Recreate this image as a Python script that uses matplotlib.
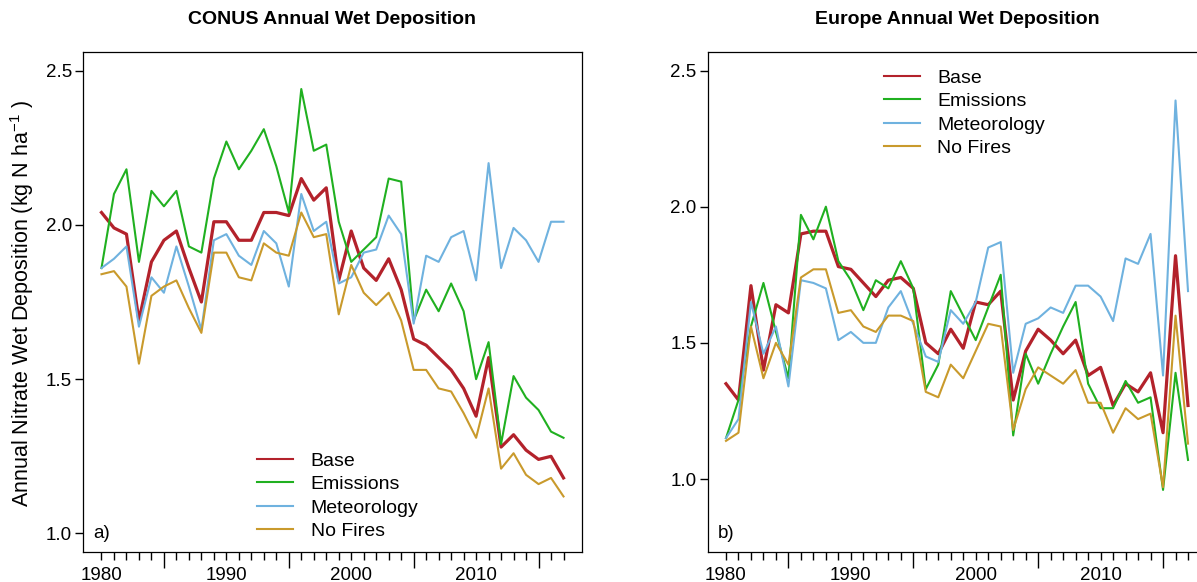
import numpy as np
import matplotlib
matplotlib.use("Agg")
import matplotlib.pyplot as plt

plt.rcParams['font.family'] = ['Liberation Sans', 'DejaVu Sans']
plt.rcParams['mathtext.fontset'] = 'custom'
plt.rcParams['mathtext.rm'] = 'Liberation Sans'
plt.rcParams['mathtext.it'] = 'Liberation Sans:italic'

years = list(range(1980, 2018))

# CONUS annual nitrate wet deposition (kg N/ha)
base_us = [2.04, 1.99, 1.97, 1.69, 1.88, 1.95, 1.98, 1.86, 1.75, 2.01,
           2.01, 1.95, 1.95, 2.04, 2.04, 2.03, 2.15, 2.08, 2.12, 1.82,
           1.98, 1.86, 1.82, 1.89, 1.79, 1.63, 1.61, 1.57, 1.53, 1.47,
           1.38, 1.57, 1.28, 1.32, 1.27, 1.24, 1.25, 1.18]
emis_us = [1.86, 2.10, 2.18, 1.88, 2.11, 2.06, 2.11, 1.93, 1.91, 2.15,
           2.27, 2.18, 2.24, 2.31, 2.19, 2.04, 2.44, 2.24, 2.26, 2.01,
           1.88, 1.92, 1.96, 2.15, 2.14, 1.69, 1.79, 1.72, 1.81, 1.72,
           1.50, 1.62, 1.29, 1.51, 1.44, 1.40, 1.33, 1.31]
met_us = [1.86, 1.89, 1.93, 1.67, 1.83, 1.78, 1.93, 1.80, 1.66, 1.95,
          1.97, 1.90, 1.87, 1.98, 1.94, 1.80, 2.10, 1.98, 2.01, 1.81,
          1.83, 1.91, 1.92, 2.03, 1.97, 1.68, 1.90, 1.88, 1.96, 1.98,
          1.82, 2.20, 1.86, 1.99, 1.95, 1.88, 2.01, 2.01]
nofire_us = [1.84, 1.85, 1.80, 1.55, 1.77, 1.80, 1.82, 1.73, 1.65, 1.91,
             1.91, 1.83, 1.82, 1.94, 1.91, 1.90, 2.04, 1.96, 1.97, 1.71,
             1.87, 1.78, 1.74, 1.78, 1.69, 1.53, 1.53, 1.47, 1.46, 1.39,
             1.31, 1.47, 1.21, 1.26, 1.19, 1.16, 1.18, 1.12]

# Europe annual nitrate wet deposition (kg N/ha)
base_eu = [1.35, 1.29, 1.71, 1.40, 1.64, 1.61, 1.90, 1.91, 1.91, 1.78,
           1.77, 1.72, 1.67, 1.73, 1.74, 1.70, 1.50, 1.46, 1.55, 1.48,
           1.65, 1.64, 1.69, 1.29, 1.47, 1.55, 1.51, 1.46, 1.51, 1.38,
           1.41, 1.27, 1.35, 1.32, 1.39, 1.17, 1.82, 1.27]
emis_eu = [1.15, 1.29, 1.56, 1.72, 1.54, 1.37, 1.97, 1.88, 2.00, 1.80,
           1.73, 1.62, 1.73, 1.70, 1.80, 1.70, 1.33, 1.42, 1.69, 1.60,
           1.51, 1.63, 1.75, 1.16, 1.46, 1.35, 1.46, 1.56, 1.65, 1.35,
           1.26, 1.26, 1.36, 1.28, 1.30, 0.96, 1.39, 1.07]
met_eu = [1.15, 1.22, 1.65, 1.46, 1.56, 1.34, 1.73, 1.72, 1.70, 1.51,
          1.54, 1.50, 1.50, 1.63, 1.69, 1.57, 1.45, 1.43, 1.62, 1.57,
          1.65, 1.85, 1.87, 1.39, 1.57, 1.59, 1.63, 1.61, 1.71, 1.71,
          1.67, 1.58, 1.81, 1.79, 1.90, 1.38, 2.39, 1.69]
nofire_eu = [1.14, 1.17, 1.56, 1.37, 1.50, 1.42, 1.74, 1.77, 1.77, 1.61,
             1.62, 1.56, 1.54, 1.60, 1.60, 1.58, 1.32, 1.30, 1.42, 1.37,
             1.47, 1.57, 1.56, 1.18, 1.33, 1.41, 1.38, 1.35, 1.40, 1.28,
             1.28, 1.17, 1.26, 1.22, 1.24, 0.97, 1.60, 1.13]

labels = ["Base", "Emissions", "Meteorology", "No Fires"]
colors = ["#B3222B", "#20B020", "#6FB2DF", "#C99A2C"]
widths = [2.3, 1.5, 1.5, 1.5]

FS = 13.5
W, H = 1197, 582
fig = plt.figure(figsize=(W / 100, H / 100), dpi=100)

def make_panel(left, series, ylim, title, tag, leg_anchor, leg_loc):
    ax = fig.add_axes([left / W, 30 / H, 499 / W, 500 / H])
    for vals, lab, col, lw in zip(series, labels, colors, widths):
        ax.plot(years, vals, color=col, lw=lw, label=lab)
    ax.set_xlim(1978.52, 2018.48)
    ax.set_ylim(*ylim)
    ax.set_yticks([1.0, 1.5, 2.0, 2.5])
    ax.set_yticklabels(["1.0", "1.5", "2.0", "2.5"])
    ax.set_xticks(list(range(1980, 2016, 5)))
    ax.set_xticklabels([str(y) if y % 10 == 0 else "" for y in range(1980, 2016, 5)])
    ax.set_xticks(years, minor=True)
    ax.tick_params(axis='x', which='major', length=11.5, width=1.0, pad=-1, labelsize=FS)
    ax.tick_params(axis='x', which='minor', length=5.8, width=1.0)
    ax.tick_params(axis='y', length=5.8, width=1.0, pad=2, labelsize=FS)
    # decade ticks are drawn short like the yearly ones
    for t in ax.xaxis.get_major_ticks():
        if t.get_loc() % 10 == 0:
            t.tick1line.set_markersize(5.8)
    for s in ax.spines.values():
        s.set_linewidth(0.9)
    leg = ax.legend(loc=leg_loc, bbox_to_anchor=leg_anchor, frameon=False, fontsize=14,
                    handlelength=1.85, handletextpad=0.9, labelspacing=0.3,
                    borderpad=0, borderaxespad=0)
    for h in leg.get_lines():
        h.set_linewidth(1.5)
    ax.text(0.02, 0.038, tag, transform=ax.transAxes, fontsize=FS, va='center', ha='left')
    fig.text((left + 249.5) / W, 1 - 20 / H, title, ha='center', va='center',
             fontsize=14, fontweight='bold')
    return ax

make_panel(83, [base_us, emis_us, met_us, nofire_us], (0.94, 2.56),
           "CONUS Annual Wet Deposition", "a)", (0.349, 0.024), 'lower left')
make_panel(707.5, [base_eu, emis_eu, met_eu, nofire_eu], (0.732, 2.568),
           "Europe Annual Wet Deposition", "b)", (0.353, 0.966), 'upper left')

fig.text(22 / W, 1 - 304 / H, "Annual Nitrate Wet Deposition (kg N ha$^{-1}$ )",
         rotation=90, ha='center', va='center', fontsize=15.5)

fig.savefig("out.png", dpi=100)
